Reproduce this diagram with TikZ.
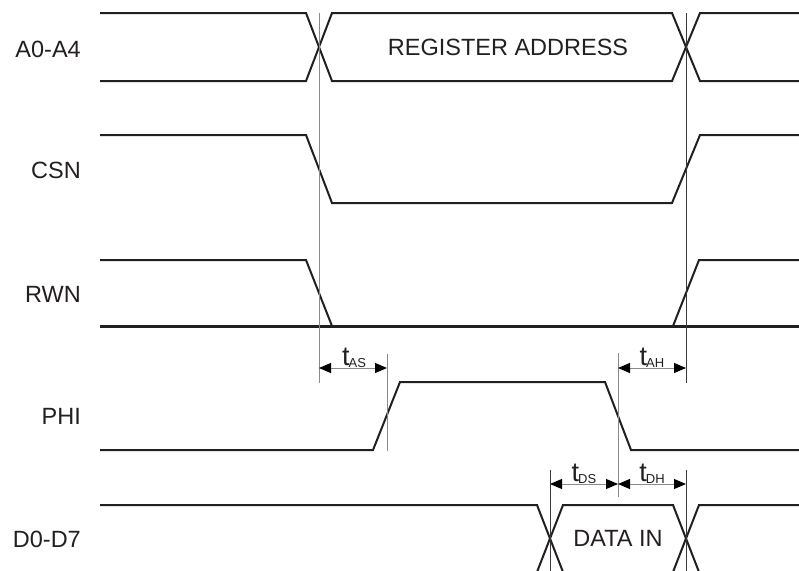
\documentclass[tikz,border=0pt]{standalone}
\usepackage{fontspec}
\setmainfont{Liberation Sans}
\usetikzlibrary{arrows.meta}
\definecolor{wavec}{HTML}{231F20}
\definecolor{guidec}{HTML}{8A8A8A}
\definecolor{darkguide}{HTML}{3A3A3A}
\begin{document}
\begin{tikzpicture}[x=1pt,y=-1pt,
  wave/.style={line width=2pt, draw=wavec, line join=miter},
  guide/.style={line width=0.9pt, draw=guidec},
  dguide/.style={line width=0.9pt, draw=darkguide},
  dimline/.style={line width=0.9pt, draw=guidec,
    {Triangle[length=12pt,width=10pt,color=black]}-{Triangle[length=12pt,width=10pt,color=black]}},
  sig/.style={anchor=east, font=\fontsize{23.5}{23.5}\selectfont, text=wavec, inner sep=0pt},
  inlabel/.style={font=\fontsize{23.5}{23.5}\selectfont, text=wavec, inner sep=0pt},
  tlabel/.style={anchor=base, inner sep=0pt, text=wavec, font=\fontsize{27}{27}\selectfont}]
\useasboundingbox (0,0) rectangle (799,570);
\clip (0,0) rectangle (799,570);

% signal names
\node[sig] (lA) at (81,49.5) {A0-A4};
\node[sig] (lC) at (81,170) {CSN};
\node[sig] (lR) at (81,294) {RWN};
\node[sig] (lP) at (81,416) {PHI};
\node[sig] (lD) at (81,539.5) {D0-D7};

% A0-A4 bus
\draw[wave] (100,13) -- (306,13) -- (332,81) -- (672,81) -- (700,13) -- (802,13);
\draw[wave] (100,81) -- (306,81) -- (332,13) -- (672,13) -- (700,81) -- (802,81);
\node[inlabel] (reg) at (508,47) {REGISTER ADDRESS};

% CSN
\draw[wave] (100,135) -- (306,135) -- (332,203) -- (672,203) -- (700,135) -- (802,135);

% RWN
\draw[wave, line width=3pt] (100,326) -- (802,326);
\draw[wave] (100,260) -- (306,260) -- (332,326) -- (673,326) -- (699,260) -- (802,260);

% PHI
\draw[wave] (100,450) -- (373,450) -- (400,382) -- (605,382) -- (631,450) -- (802,450);

% D0-D7 bus
\draw[wave] (100,505) -- (537,505) -- (563,572);
\draw[wave] (537,572) -- (563,505) -- (673,505) -- (699,572);
\draw[wave] (673,572) -- (699,505) -- (802,505);
\node[inlabel] (din) at (618,538) {DATA IN};

% guide lines
\coordinate (g1t) at (319,13);  \coordinate (g1b) at (319,383);
\coordinate (g2t) at (387,354); \coordinate (g2b) at (387,451);
\coordinate (g3t) at (618,353); \coordinate (g3b) at (618,497);
\coordinate (g4t) at (686,13);  \coordinate (g4b) at (686,383);
\coordinate (g5t) at (550,470); \coordinate (g5b) at (550,571);
\coordinate (g6t) at (686,470); \coordinate (g6b) at (686,571);
\draw[guide] (g1t) -- (g1b);
\draw[guide] (g2t) -- (g2b);
\draw[guide] (g3t) -- (g3b);
\draw[dguide] (g4t) -- (g4b);
\draw[dguide] (g5t) -- (g5b);
\draw[dguide] (g6t) -- (g6b);

% dimension arrows
\coordinate (as1) at (319,368); \coordinate (as2) at (387,368);
\coordinate (ah1) at (618,368); \coordinate (ah2) at (686,368);
\coordinate (ds1) at (550,484); \coordinate (ds2) at (618,484);
\coordinate (dh1) at (618,484); \coordinate (dh2) at (686,484);
\draw[dimline] (as1) -- (as2);
\draw[dimline] (ah1) -- (ah2);
\draw[dimline] (ds1) -- (ds2);
\draw[dimline] (dh1) -- (dh2);

\node[tlabel] (tas) at (354,365) {t\kern-1pt\raisebox{-2pt}{\fontsize{13}{13}\selectfont AS}};
\node[tlabel] (tah) at (652,365) {t\kern-1pt\raisebox{-2pt}{\fontsize{13}{13}\selectfont AH}};
\node[tlabel] (tds) at (584,481) {t\kern-1pt\raisebox{-2pt}{\fontsize{13}{13}\selectfont DS}};
\node[tlabel] (tdh) at (652,481) {t\kern-1pt\raisebox{-2pt}{\fontsize{13}{13}\selectfont DH}};
\end{tikzpicture}
\end{document}
